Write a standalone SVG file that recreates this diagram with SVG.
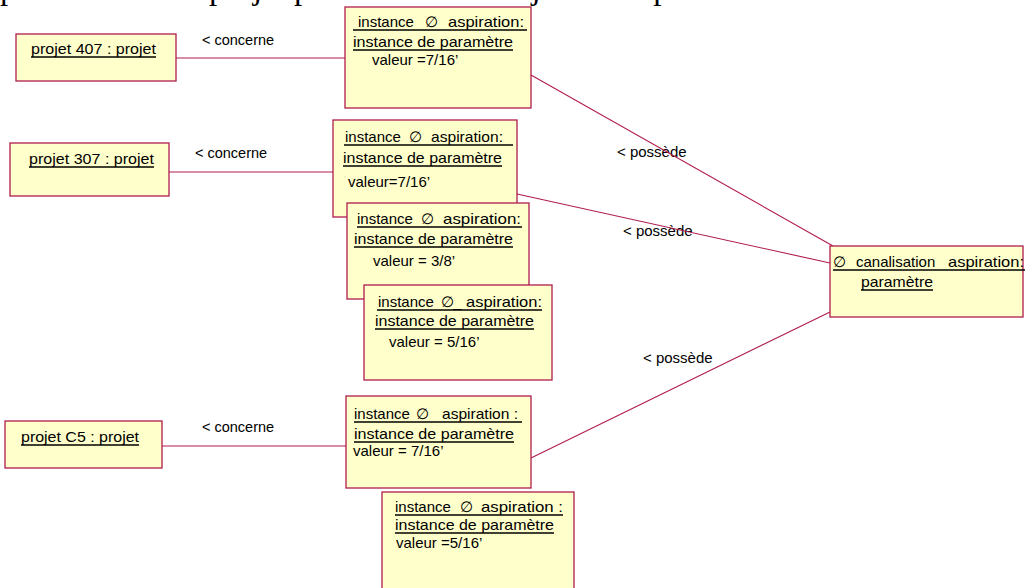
<svg xmlns="http://www.w3.org/2000/svg" width="1025" height="588" viewBox="0 0 1025 588">
<style>
.box{fill:#ffffcc;stroke:#b01c4e;stroke-width:1.3}
.conn{stroke:#b01c4e;stroke-width:1.1;fill:none}
.t{font-family:"Liberation Sans",Arial,sans-serif;font-size:15px;fill:#000}
.c{font-size:14.5px}
.ul{stroke:#000;stroke-width:1.3}
.top{font-family:"Liberation Serif","Times New Roman",serif;font-size:33px;fill:#000}
</style>
<rect width="1025" height="588" fill="#fff"/>
<text class="top" x="0" y="-1">paramètre d’un projet particulier. Cet objet correspond à une version de la</text>
<g id="connectors">
<text class="t c" x="202" y="45">&lt; concerne</text>
<text class="t c" x="195" y="158">&lt; concerne</text>
<text class="t c" x="202" y="432">&lt; concerne</text>
<text class="t" x="617" y="157">&lt; possède</text>
<text class="t" x="623" y="236">&lt; possède</text>
<text class="t" x="643" y="363">&lt; possède</text>
<line class="conn" x1="176" y1="58" x2="345" y2="58"/>
<line class="conn" x1="169" y1="172" x2="333" y2="172"/>
<line class="conn" x1="162" y1="446" x2="346" y2="446"/>
<line class="conn" x1="531" y1="75" x2="833" y2="246"/>
<line class="conn" x1="517" y1="194" x2="830" y2="263"/>
<line class="conn" x1="531" y1="458" x2="830" y2="312"/>
</g>
<g id="projet407">
<rect class="box" x="16" y="34" width="160" height="47"/>
<text class="t" x="31" y="54" textLength="125" lengthAdjust="spacingAndGlyphs">projet 407 : projet</text>
<line class="ul" x1="31" y1="57" x2="156" y2="57"/>
</g>
<g id="projet307">
<rect class="box" x="10" y="143" width="159" height="53"/>
<text class="t" x="29" y="164" textLength="125" lengthAdjust="spacingAndGlyphs">projet 307 : projet</text>
<line class="ul" x1="29" y1="167" x2="154" y2="167"/>
</g>
<g id="projetC5">
<rect class="box" x="5" y="421" width="157" height="47"/>
<text class="t" x="21" y="442" textLength="118" lengthAdjust="spacingAndGlyphs">projet C5 : projet</text>
<line class="ul" x1="21" y1="445" x2="139" y2="445"/>
</g>
<g id="inst407">
<rect class="box" x="345" y="7" width="186" height="101"/>
<text class="t" x="358" y="27">instance</text>
<text class="t" x="425" y="27">∅</text>
<text class="t" x="448" y="27" textLength="76" lengthAdjust="spacingAndGlyphs">aspiration:</text>
<line class="ul" x1="353" y1="30" x2="527" y2="30"/>
<text class="t" x="353" y="47" textLength="160" lengthAdjust="spacingAndGlyphs">instance de paramètre</text>
<line class="ul" x1="353" y1="50" x2="513" y2="50"/>
<text class="t" x="372" y="65">valeur =7/16’</text>
</g>
<g id="inst307a">
<rect class="box" x="333" y="120" width="184" height="97"/>
<text class="t" x="345" y="142">instance</text>
<text class="t" x="409" y="142">∅</text>
<text class="t" x="431" y="142" textLength="72" lengthAdjust="spacingAndGlyphs">aspiration:</text>
<line class="ul" x1="344" y1="145" x2="513" y2="145"/>
<text class="t" x="343" y="163" textLength="159" lengthAdjust="spacingAndGlyphs">instance de paramètre</text>
<line class="ul" x1="343" y1="166" x2="502" y2="166"/>
<text class="t" x="348" y="187">valeur=7/16’</text>
</g>
<g id="inst307b">
<rect class="box" x="347" y="203" width="182" height="96"/>
<text class="t" x="357" y="224">instance</text>
<text class="t" x="421" y="224">∅</text>
<text class="t" x="443" y="224" textLength="78" lengthAdjust="spacingAndGlyphs">aspiration:</text>
<line class="ul" x1="357" y1="227" x2="522" y2="227"/>
<text class="t" x="354" y="244" textLength="159" lengthAdjust="spacingAndGlyphs">instance de paramètre</text>
<line class="ul" x1="354" y1="247" x2="513" y2="247"/>
<text class="t" x="373" y="266">valeur = 3/8’</text>
</g>
<g id="inst307c">
<rect class="box" x="364" y="285" width="188" height="95"/>
<text class="t" x="378" y="307">instance</text>
<text class="t" x="441" y="307">∅</text>
<text class="t" x="453" y="307">_</text>
<text class="t" x="466" y="307" textLength="76" lengthAdjust="spacingAndGlyphs">aspiration:</text>
<line class="ul" x1="377" y1="310" x2="542" y2="310"/>
<text class="t" x="375" y="326" textLength="159" lengthAdjust="spacingAndGlyphs">instance de paramètre</text>
<line class="ul" x1="375" y1="329" x2="534" y2="329"/>
<text class="t" x="389" y="347">valeur = 5/16’</text>
</g>
<g id="canalisation">
<rect class="box" x="830" y="246" width="193" height="71"/>
<text class="t" x="833" y="267">∅</text>
<text class="t" x="856" y="267">canalisation</text>
<text class="t" x="948" y="267" textLength="76" lengthAdjust="spacingAndGlyphs">aspiration:</text>
<line class="ul" x1="833" y1="270" x2="1025" y2="270"/>
<text class="t" x="861" y="287" textLength="72" lengthAdjust="spacingAndGlyphs">paramètre</text>
<line class="ul" x1="861" y1="290" x2="933" y2="290"/>
</g>
<g id="instC5a">
<rect class="box" x="346" y="396" width="185" height="92"/>
<text class="t" x="354" y="419">instance</text>
<text class="t" x="416" y="419">∅</text>
<text class="t" x="442" y="419" textLength="76" lengthAdjust="spacingAndGlyphs">aspiration :</text>
<line class="ul" x1="354" y1="422" x2="522" y2="422"/>
<text class="t" x="354" y="439" textLength="160" lengthAdjust="spacingAndGlyphs">instance de paramètre</text>
<line class="ul" x1="354" y1="442" x2="514" y2="442"/>
<text class="t" x="353" y="456">valeur = 7/16’</text>
</g>
<g id="instC5b">
<rect class="box" x="382" y="492" width="192" height="100"/>
<text class="t" x="395" y="512">instance</text>
<text class="t" x="460" y="512">∅</text>
<text class="t" x="481" y="512" textLength="82" lengthAdjust="spacingAndGlyphs">aspiration :</text>
<line class="ul" x1="395" y1="515" x2="563" y2="515"/>
<text class="t" x="395" y="530" textLength="159" lengthAdjust="spacingAndGlyphs">instance de paramètre</text>
<line class="ul" x1="395" y1="533" x2="554" y2="533"/>
<text class="t" x="396" y="548">valeur =5/16’</text>
</g>
</svg>
